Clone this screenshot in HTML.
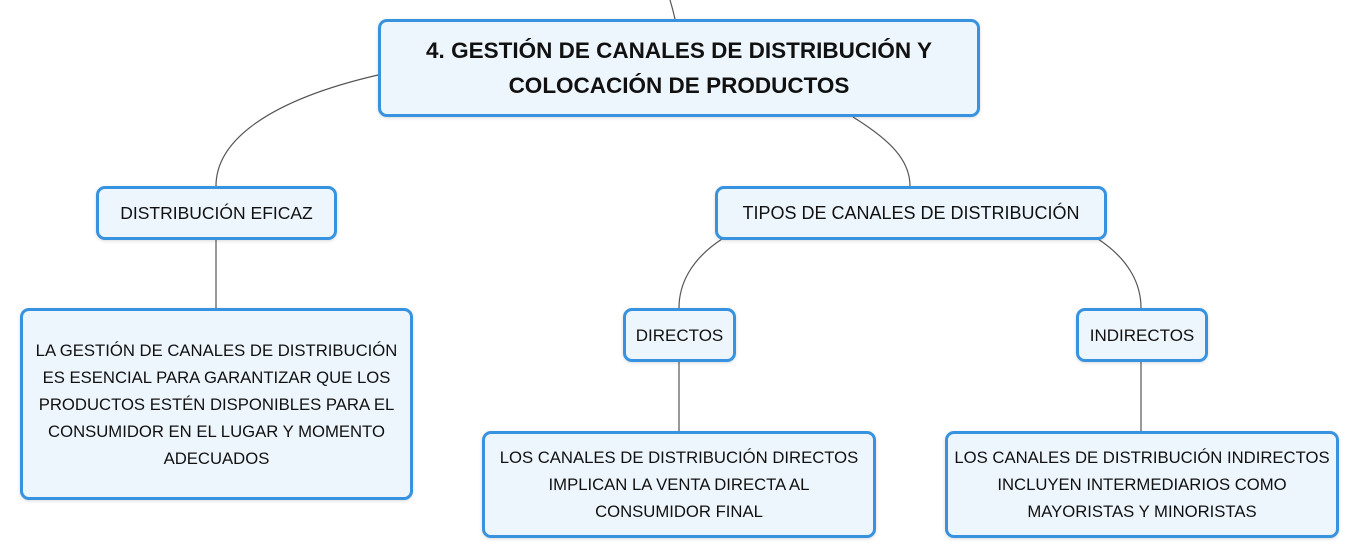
<!DOCTYPE html>
<html><head><meta charset="utf-8"><style>
body{margin:0;width:1359px;height:558px;background:#fff;position:relative;overflow:hidden;font-family:"Liberation Sans",sans-serif;color:#111}
.b{position:absolute;box-sizing:border-box;border:3px solid #3793e0;border-radius:9px;background:#eef6fd;display:flex;align-items:center;justify-content:center;text-align:center;font-size:16.7px;line-height:27px;box-shadow:0 1px 3px rgba(0,0,0,.15);white-space:nowrap}
svg{position:absolute;left:0;top:0}
</style></head><body>
<svg width="1359" height="558" fill="none" stroke="#555" stroke-width="1.2">
<path d="M670 0 Q673 10 675 19"/>
<path d="M378 75 C270 100 216 140 216 186"/>
<path d="M853 117 C890 140 910 160 910 186"/>
<path d="M216 239 L216 308"/>
<path d="M722 239 C690 260 679 285 679 308"/>
<path d="M1098 239 C1130 260 1141 285 1141 308"/>
<path d="M679 361 L679 431"/>
<path d="M1141 361 L1141 431"/>
</svg>
<div class="b" style="left:378px;top:19px;width:602px;height:98px;font-weight:bold;font-size:22.5px;line-height:35px">4. GESTIÓN DE CANALES DE DISTRIBUCIÓN Y<br>COLOCACIÓN DE PRODUCTOS</div>
<div class="b" style="left:96px;top:186px;width:241px;height:54px;font-size:17.5px">DISTRIBUCIÓN EFICAZ</div>
<div class="b" style="left:715px;top:186px;width:392px;height:54px;font-size:18px">TIPOS DE CANALES DE DISTRIBUCIÓN</div>
<div class="b" style="left:20px;top:308px;width:393px;height:192px">LA GESTIÓN DE CANALES DE DISTRIBUCIÓN<br>ES ESENCIAL PARA GARANTIZAR QUE LOS<br>PRODUCTOS ESTÉN DISPONIBLES PARA EL<br>CONSUMIDOR EN EL LUGAR Y MOMENTO<br>ADECUADOS</div>
<div class="b" style="left:623px;top:308px;width:113px;height:54px;font-size:17px">DIRECTOS</div>
<div class="b" style="left:1076px;top:308px;width:132px;height:54px;font-size:17px">INDIRECTOS</div>
<div class="b" style="left:482px;top:431px;width:394px;height:107px">LOS CANALES DE DISTRIBUCIÓN DIRECTOS<br>IMPLICAN LA VENTA DIRECTA AL<br>CONSUMIDOR FINAL</div>
<div class="b" style="left:945px;top:431px;width:394px;height:107px">LOS CANALES DE DISTRIBUCIÓN INDIRECTOS<br>INCLUYEN INTERMEDIARIOS COMO<br>MAYORISTAS Y MINORISTAS</div>
</body></html>
